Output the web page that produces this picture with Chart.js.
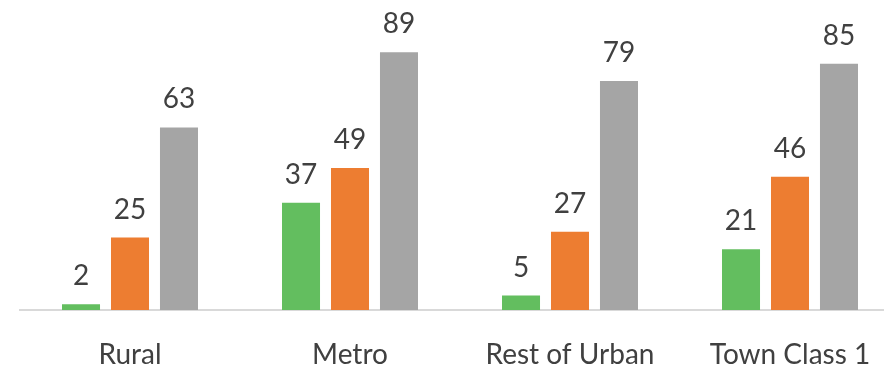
<!DOCTYPE html>
<html>
<head>
<meta charset="utf-8">
<script src="https://cdn.jsdelivr.net/npm/chart.js@4/dist/chart.umd.min.js"></script>
<style>
    html, body { margin: 0; padding: 0; background: #fff; overflow: hidden; }
    #wrap { width: 900px; height: 366px; }
</style>
</head>
<body>
<div id="wrap"><canvas id="graph"></canvas></div>
<script>
// categories and the three series
let categories = ['Rural', 'Metro', 'Rest of Urban', 'Town Class 1']
let seriesGreen = [2, 37, 5, 21]
let seriesOrange = [25, 49, 27, 46]
let seriesGray = [63, 89, 79, 85]

let textColor = '#404040'

// writes the value above each bar
let valueLabels = {
    id: 'valueLabels',
    afterDatasetsDraw(chart) {
        let ctx = chart.ctx
        ctx.save()
        ctx.font = '28px Lato'
        ctx.fillStyle = textColor
        ctx.textAlign = 'center'
        ctx.textBaseline = 'alphabetic'
        chart.data.datasets.forEach((ds, i) => {
            chart.getDatasetMeta(i).data.forEach((bar, j) => {
                ctx.fillText(ds.data[j], bar.x, bar.y - 19)
            })
        })
        ctx.restore()
    }
}

let srx = document.getElementById('graph').getContext('2d')

let graph = new Chart(srx, {
    type: 'bar',
    data: {
        labels: categories,
        datasets: [
            { label: 'Series 1', data: seriesGreen, backgroundColor: '#63BE5F' },
            { label: 'Series 2', data: seriesOrange, backgroundColor: '#ED7D31' },
            { label: 'Series 3', data: seriesGray, backgroundColor: '#A5A5A5' },
        ]
    },
    options: {
        responsive: true,
        maintainAspectRatio: false,
        animation: false,
        categoryPercentage: 0.668,
        barPercentage: 0.776,
        layout: { padding: { left: 20, right: 0, top: 0, bottom: 0 } },
        plugins: {
            legend: { display: false },
            tooltip: { enabled: false }
        },
        scales: {
            x: {
                grid: { display: false, drawTicks: false },
                border: { display: true, color: '#D9D9D9', width: 2 },
                ticks: {
                    color: textColor,
                    font: { family: 'Lato', size: 28 },
                    padding: 28
                },
                // keep the axis strip a fixed height so the baseline sits low
                afterFit: scale => { scale.height = 56 }
            },
            y: {
                display: false,
                min: 0,
                max: 107
            }
        }
    },
    plugins: [valueLabels]
})
</script>
</body>
</html>
